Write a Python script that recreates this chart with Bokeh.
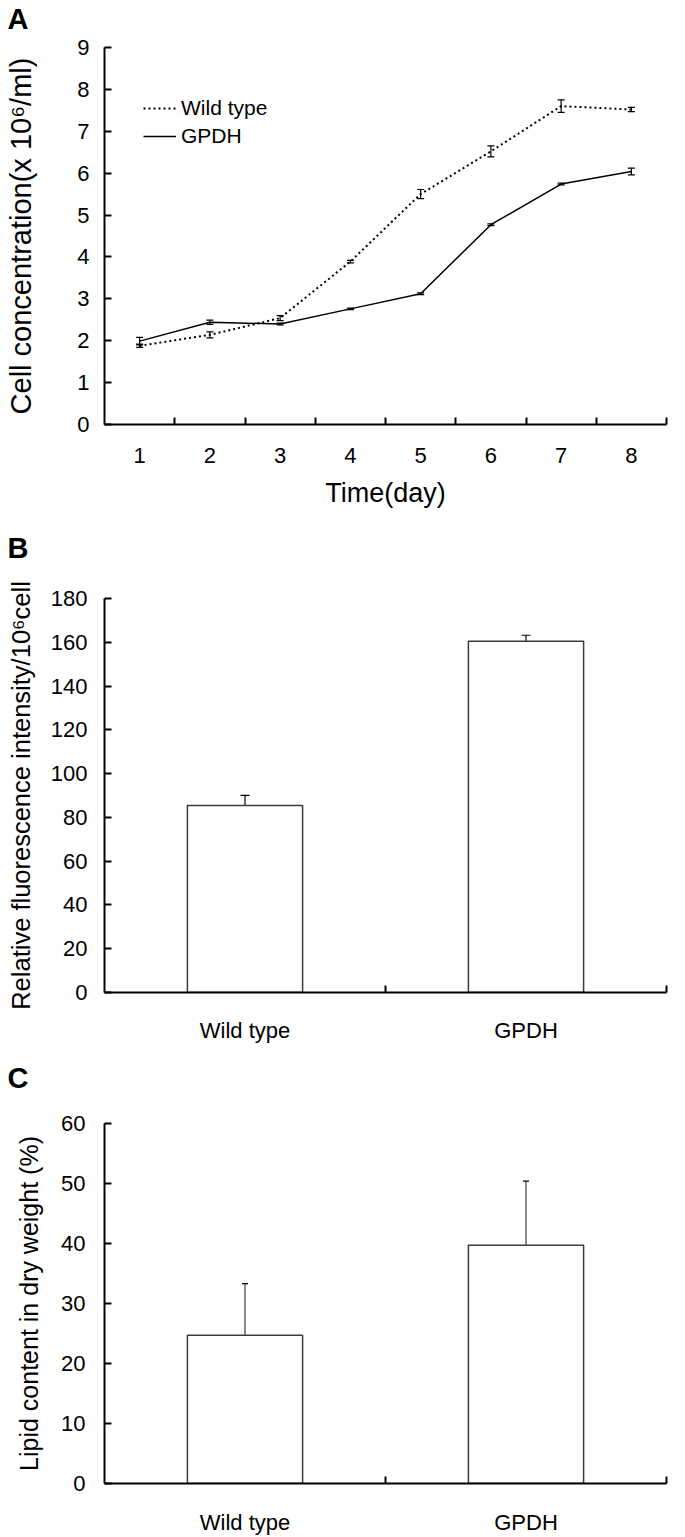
from bokeh.plotting import figure
from bokeh.models import (ColumnDataSource, Whisker, TeeHead, FixedTicker, Legend,
                          LegendItem, Range1d, Title)
from bokeh.layouts import column
from bokeh.embed import file_html
from bokeh.resources import INLINE

FONT = "Liberation Sans"

# ---------------- data ----------------
days = [1, 2, 3, 4, 5, 6, 7, 8]
wt_conc = [1.88, 2.14, 2.54, 3.89, 5.50, 6.52, 7.60, 7.52]
wt_err = [0.04, 0.07, 0.06, 0.03, 0.11, 0.13, 0.15, 0.05]
gpdh_conc = [1.99, 2.44, 2.40, 2.76, 3.12, 4.77, 5.74, 6.04]
gpdh_err = [0.09, 0.05, 0.02, 0.02, 0.02, 0.02, 0.02, 0.08]

groups = ["Wild type", "GPDH"]
fluor = [85.4, 160.5]
fluor_err = [4.7, 2.7]
lipid = [24.7, 39.7]
lipid_err = [8.6, 10.7]

conc_ticks = list(range(0, 10))
fluor_ticks = list(range(0, 181, 20))
lipid_ticks = list(range(0, 61, 10))

W = 685


def base_style(p, letter, gap):
    p.outline_line_color = None
    p.grid.visible = False
    p.background_fill_color = "white"
    p.border_fill_color = "white"
    for ax in (p.xaxis[0], p.yaxis[0]):
        ax.axis_line_width = 2
        ax.axis_line_color = "black"
        ax.major_label_text_font = FONT
        ax.major_label_text_font_size = "22px"
        ax.major_label_text_color = "black"
        ax.axis_label_text_font = FONT
        ax.axis_label_text_font_style = "normal"
        ax.axis_label_text_color = "black"
    y = p.yaxis[0]
    y.major_tick_in = 7
    y.major_tick_out = 0
    y.major_tick_line_width = 2
    y.major_tick_line_color = "black"
    y.minor_tick_line_color = None
    x = p.xaxis[0]
    x.major_tick_line_color = None
    x.minor_tick_in = 7
    x.minor_tick_out = 0
    x.minor_tick_line_width = 2
    x.minor_tick_line_color = "black"
    # panel letter as the (outer) title, with a thin spacer title between it and the frame
    p.title.text = letter
    p.title.align = "left"
    p.title.offset = -97
    p.title.text_font = FONT
    p.title.text_font_size = "29px"
    p.title.text_font_style = "bold"
    p.title.text_color = "black"
    p.title.standoff = 0
    p.add_layout(Title(text=" ", text_font_size="1px", standoff=gap), "above")


# ---------------- Panel A ----------------
pA = figure(width=W, height=528, x_range=Range1d(0.5, 8.5), y_range=Range1d(0, 9),
            output_backend="svg", toolbar_location=None,
            min_border_left=104, min_border_right=19, min_border_top=46, min_border_bottom=104)
base_style(pA, "A", 10)
pA.xaxis[0].ticker = FixedTicker(ticks=days, minor_ticks=[d + 0.5 for d in days])
pA.yaxis[0].ticker = FixedTicker(ticks=conc_ticks)
pA.xaxis[0].major_label_standoff = 17
pA.xaxis[0].axis_label = "Time(day)"
pA.xaxis[0].axis_label_text_font_size = "27px"
pA.xaxis[0].axis_label_standoff = 12
pA.yaxis[0].major_label_standoff = 15
pA.yaxis[0].axis_label = "Cell concentration(x 10\u2076/ml)"
pA.yaxis[0].axis_label_text_font_size = "29px"
pA.yaxis[0].axis_label_standoff = 37

srcA = ColumnDataSource(dict(
    x=days, wt=wt_conc, g=gpdh_conc,
    wt_up=[v + e for v, e in zip(wt_conc, wt_err)], wt_lo=[v - e for v, e in zip(wt_conc, wt_err)],
    g_up=[v + e for v, e in zip(gpdh_conc, gpdh_err)], g_lo=[v - e for v, e in zip(gpdh_conc, gpdh_err)],
))
r_wt = pA.line("x", "wt", source=srcA, line_color="black", line_width=2, line_dash="2 3")
r_g = pA.line("x", "g", source=srcA, line_color="black", line_width=1.5)
for up, lo in (("wt_up", "wt_lo"), ("g_up", "g_lo")):
    pA.add_layout(Whisker(base="x", upper=up, lower=lo, source=srcA, line_width=1.2,
                          line_color="black",
                          upper_head=TeeHead(size=7, line_width=1.2, line_color="black"),
                          lower_head=TeeHead(size=7, line_width=1.2, line_color="black")))
legA = Legend(items=[LegendItem(label="Wild type", renderers=[r_wt]),
                     LegendItem(label="GPDH", renderers=[r_g])],
              location=(39, 276), border_line_color=None, background_fill_alpha=0,
              padding=0, margin=0, spacing=4, glyph_width=33, glyph_height=24,
              label_height=24, label_standoff=5, label_text_font=FONT,
              label_text_font_size="21px", label_text_color="black")
pA.add_layout(legA)

# ---------------- Panel B ----------------
xs = [i + 0.5 for i in range(len(groups))]
bounds = [i + 1.0 for i in range(len(groups))]
overrides = {x: g for x, g in zip(xs, groups)}

pB = figure(width=W, height=517, x_range=Range1d(0, len(groups)), y_range=Range1d(0, 180),
            output_backend="svg", toolbar_location=None,
            min_border_left=104, min_border_right=3, min_border_top=70, min_border_bottom=50)
base_style(pB, "B", 32)
pB.xaxis[0].ticker = FixedTicker(ticks=xs, minor_ticks=bounds)
pB.xaxis[0].major_label_overrides = overrides
pB.xaxis[0].major_label_standoff = 19
pB.yaxis[0].ticker = FixedTicker(ticks=fluor_ticks)
pB.yaxis[0].major_label_standoff = 17
pB.yaxis[0].axis_label = "Relative fluorescence intensity/10\u2076cell"
pB.yaxis[0].axis_label_text_font_size = "25.5px"
pB.yaxis[0].axis_label_standoff = 13

srcB = ColumnDataSource(dict(x=xs, v=fluor,
                             up=[v + e for v, e in zip(fluor, fluor_err)],
                             lo=[v - e for v, e in zip(fluor, fluor_err)]))
pB.vbar(x="x", top="v", bottom=0, width=0.41, source=srcB, fill_color="white",
        line_color="#3a3a3a", line_width=1.5)
pB.add_layout(Whisker(base="x", upper="up", lower="lo", source=srcB, line_width=1.2,
                      line_color="black",
                      upper_head=TeeHead(size=9, line_width=1.2, line_color="black"),
                      lower_head=TeeHead(size=9, line_width=1.2, line_color="black")))

# ---------------- Panel C ----------------
pC = figure(width=W, height=492, x_range=Range1d(0, len(groups)), y_range=Range1d(0, 60),
            output_backend="svg", toolbar_location=None,
            min_border_left=104, min_border_right=3, min_border_top=78, min_border_bottom=47)
base_style(pC, "C", 27)
pC.xaxis[0].ticker = FixedTicker(ticks=xs, minor_ticks=bounds)
pC.xaxis[0].major_label_overrides = overrides
pC.xaxis[0].major_label_standoff = 20
pC.yaxis[0].ticker = FixedTicker(ticks=lipid_ticks)
pC.yaxis[0].major_label_standoff = 19
pC.yaxis[0].axis_label = "Lipid content in dry weight (%)"
pC.yaxis[0].axis_label_text_font_size = "25px"
pC.yaxis[0].axis_label_standoff = 15

srcC = ColumnDataSource(dict(x=xs, v=lipid,
                             up=[v + e for v, e in zip(lipid, lipid_err)]))
pC.vbar(x="x", top="v", bottom=0, width=0.41, source=srcC, fill_color="white",
        line_color="#3a3a3a", line_width=1.5)
pC.add_layout(Whisker(base="x", upper="up", lower="v", source=srcC, line_width=1.2,
                      line_color="#3a3a3a",
                      upper_head=TeeHead(size=6, line_width=1.2, line_color="black"),
                      lower_head=None))

layout = column(pA, pB, pC, spacing=0)
open("out.html", "w").write(file_html(layout, INLINE))
